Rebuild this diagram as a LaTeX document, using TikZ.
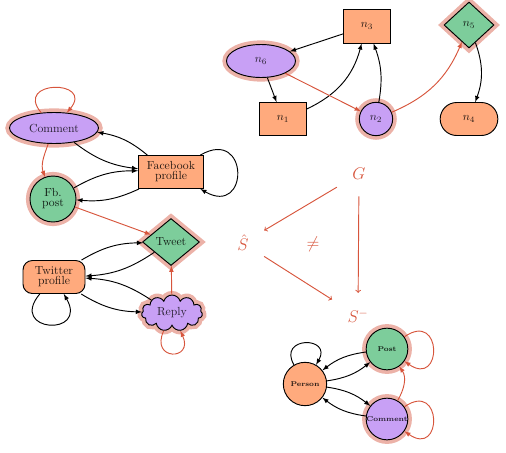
\documentclass[tikz,border=0pt]{standalone}
\usepackage{amssymb,amsmath}
\usepackage{tikz,xcolor}
\usetikzlibrary{shapes.geometric,shapes.symbols,shapes.misc,arrows}

\definecolor{orng}{RGB}{255,170,125}
\definecolor{prpl}{RGB}{200,160,245}
\definecolor{grn}{RGB}{125,205,155}
\definecolor{halo}{RGB}{236,178,168}
\definecolor{redarr}{RGB}{215,85,60}

\tikzset{
  % common look of a vertex
  vertex/.style={draw=black, thick, inner sep=1pt, align=center,
    font=\fontsize{10}{8.5}\selectfont},
  ornode/.style={vertex, fill=orng, text=orng!15!black},
  prnode/.style={vertex, fill=prpl, text=prpl!20!black},
  grnode/.style={vertex, fill=grn, text=grn!15!black},
  % pink glow round the kept vertices
  glow/.style={preaction={draw=halo, line width=7pt}},
  % black and red connectors
  blk/.style={-latex, thick, black},
  rd/.style={-latex, thick, redarr},
  % small bold labels of the schema graph
  tinylbl/.style={font=\fontsize{6}{7}\selectfont\bfseries},
  % the letters in the middle
  sym/.style={text=redarr, font=\Large, inner sep=8pt},
  symarr/.style={->, thick, redarr, shorten >=6pt, shorten <=6pt},
}

\begin{document}
\begin{tikzpicture}
\useasboundingbox (0,0) rectangle (15.18,-13.56);

% left graph
\node[prnode, glow, ellipse, minimum width=2.67cm, minimum height=0.93cm] (comment) at (1.62,-3.84) {Comment};
\node[grnode, glow, circle, minimum size=1.38cm, inner sep=0pt] (fbpost) at (1.59,-5.97) {Fb.\\post};
\node[ornode, rectangle, minimum width=1.95cm, minimum height=0.99cm] (fbprof) at (5.13,-5.16) {Facebook\\profile};
\node[grnode, glow, diamond, minimum width=1.71cm, minimum height=1.41cm, inner sep=0pt] (tweet) at (5.13,-7.26) {Tweet};
\node[ornode, rectangle, rounded corners=8pt, minimum width=1.86cm, minimum height=0.99cm] (twprof) at (1.62,-8.31) {Twitter\\profile};
\node[prnode, glow, cloud, cloud puffs=11, aspect=2, minimum width=1.83cm, minimum height=1.08cm, inner sep=0pt] (reply) at (5.16,-9.39) {Reply};

\draw[rd] (comment) to[out=130, in=50, looseness=1, min distance=1.3cm] (comment);
\draw[rd] (comment) to[out=-110, in=110] (fbpost);
\draw[blk] (comment) to[bend right=15] (fbprof);
\draw[blk] (fbprof) to[bend right=15] (comment);
\draw[blk] (fbpost) to[bend left=15] (fbprof);
\draw[blk] (fbprof) to[bend left=15] (fbpost);
\draw[blk] (fbprof) to[out=30, in=-30, looseness=1, min distance=1.7cm] (fbprof);
\draw[rd] (fbpost) -- (tweet);
\draw[blk] (twprof) to[bend left=15] (tweet);
\draw[blk] (tweet) to[bend left=15] (twprof);
\draw[blk] (reply) to[bend right=15] (twprof);
\draw[blk] (twprof) to[bend right=15] (reply);
\draw[blk] (twprof) to[out=-130, in=-60, looseness=1, min distance=1.5cm] (twprof);
\draw[rd] (reply) -- (tweet);
\draw[rd] (reply) to[out=-115, in=-65, looseness=1, min distance=1cm] (reply);

% top graph
\node[ornode, rectangle, minimum width=1.41cm, minimum height=1.02cm] (n3) at (11.01,-0.78) {$n_3$};
\node[prnode, glow, ellipse, minimum width=2.07cm, minimum height=0.99cm] (n6) at (7.83,-1.83) {$n_6$};
\node[ornode, rectangle, minimum width=1.41cm, minimum height=0.99cm] (n1) at (8.49,-3.57) {$n_1$};
\node[prnode, glow, circle, minimum size=1cm, inner sep=0pt] (n2) at (11.28,-3.57) {$n_2$};
\node[grnode, glow, diamond, minimum width=1.5cm, minimum height=1.38cm, inner sep=0pt] (n5) at (14.07,-0.75) {$n_5$};
\node[ornode, rounded rectangle, minimum width=1.8cm, minimum height=0.99cm] (n4) at (14.07,-3.57) {$n_4$};

\draw[blk] (n3) -- (n6);
\draw[blk] (n6) -- (n1);
\draw[blk] (n1) to[bend right=25] (n3);
\draw[blk] (n2) to[bend right=15] (n3);
\draw[rd] (n6) -- (n2);
\draw[rd] (n2) to[bend right=22] (n5);
\draw[blk] (n5) to[bend left=20] (n4);

% middle
\node[sym] (G) at (10.77,-5.22) {$G$};
\node[sym] (Shat) at (7.29,-7.29) {$\hat{S}$};
\node[sym] (neq) at (9.39,-7.32) {$\neq$};
\node[sym] (Sminus) at (10.74,-9.48) {$S^{-}$};
\draw[symarr] (G) -- (Shat);
\draw[symarr] (Shat) -- (Sminus);
\draw[symarr] (G) -- (Sminus);

% schema graph
\node[ornode, tinylbl, circle, minimum size=1.3cm, inner sep=0pt] (person) at (9.15,-11.52) {Person};
\node[grnode, tinylbl, glow, circle, minimum size=1.25cm, inner sep=0pt] (post) at (11.61,-10.47) {Post};
\node[prnode, tinylbl, glow, circle, minimum size=1.25cm, inner sep=0pt] (comm) at (11.61,-12.57) {Comment};

\draw[blk] (person) to[out=120, in=60, looseness=1, min distance=1cm] (person);
\draw[blk] (post) to[bend right=15] (person);
\draw[blk] (person) to[bend right=15] (post);
\draw[blk] (person) to[bend left=15] (comm);
\draw[blk] (comm) to[bend left=15] (person);
\draw[rd] (comm) to[out=60, in=-55] (post);
\draw[rd] (post) to[out=35, in=-35, looseness=1, min distance=1.4cm] (post);
\draw[rd] (comm) to[out=35, in=-35, looseness=1, min distance=1.4cm] (comm);
\end{tikzpicture}
\end{document}
